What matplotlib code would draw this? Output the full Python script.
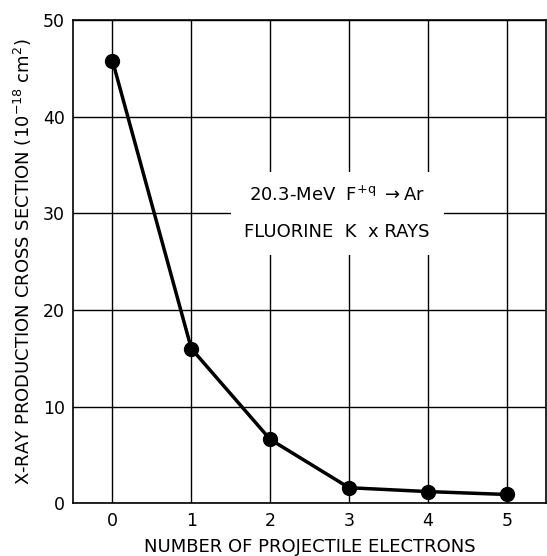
import matplotlib
matplotlib.use('Agg')
import matplotlib.pyplot as plt

electrons = [0, 1, 2, 3, 4, 5]
cross_section = [45.8, 16.0, 6.6, 1.6, 1.2, 0.9]
yticks = [0, 10, 20, 30, 40, 50]

plt.rcParams['font.family'] = 'DejaVu Sans'

fig = plt.figure(figsize=(5.47, 5.56), dpi=100)
ax = fig.add_axes([0.1335, 0.095, 0.865, 0.869])

ax.set_xlim(-0.5, 5.5)
ax.set_ylim(0, 50)
ax.set_xticks(electrons)
ax.set_yticks(yticks)
ax.tick_params(length=0, labelsize=12.5, pad=6)
ax.grid(True, color='black', linewidth=1.0)
ax.set_axisbelow(True)
for s in ax.spines.values():
    s.set_linewidth(1.2)

ax.plot(electrons, cross_section, color='black', linewidth=2.5,
        marker='o', markersize=10, zorder=3)

ax.text(2.85, 30.0, '20.3-MeV  F$^{\\mathrm{+q}}$ $\\rightarrow$Ar\n\nFLUORINE  K  x RAYS',
        ha='center', va='center', fontsize=13, linespacing=1.0,
        bbox=dict(facecolor='white', edgecolor='none', pad=10), zorder=4)

ax.set_xlabel('NUMBER OF PROJECTILE ELECTRONS', fontsize=13, labelpad=6)
ax.set_ylabel('X-RAY PRODUCTION CROSS SECTION (10$^{\\mathrm{-18}}$ cm$^{2}$)', fontsize=13, labelpad=6)

fig.savefig('out.png', dpi=100)
